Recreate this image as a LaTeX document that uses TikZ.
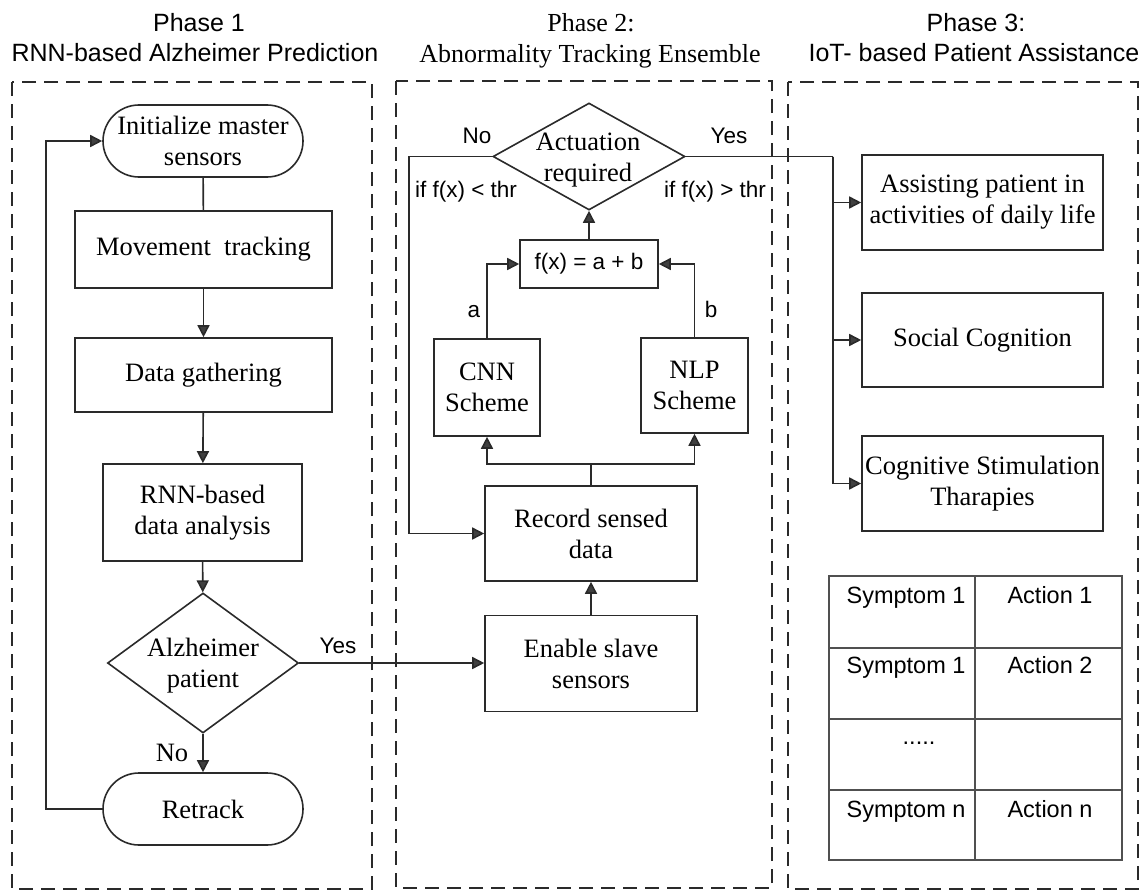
\documentclass[tikz,border=0pt]{standalone}
\usepackage{fontspec}
\setmainfont{Liberation Serif}
\setsansfont{Liberation Sans}
\usetikzlibrary{arrows.meta,shapes.geometric}
\definecolor{lc}{HTML}{2A2A2A}
\definecolor{ac}{HTML}{404040}
\definecolor{tc}{HTML}{505050}
\newcommand\serifbox{\fontsize{26.5}{31}\selectfont}
\newcommand\sanslbl{\sffamily\fontsize{22.5}{27}\selectfont}
\newcommand\sanscell{\sffamily\fontsize{23.5}{27}\selectfont}
\newcommand\sanstitle{\sffamily\fontsize{25}{30}\selectfont}
\newcommand\seriftitle{\fontsize{26}{30}\selectfont}
\begin{document}
\begin{tikzpicture}[x=1pt,y=-1pt,
  ln/.style={draw=lc, line width=1.6pt},
  arr/.style={ln, -{Triangle[length=12pt,width=12pt,fill=ac]}},
  box/.style={draw=lc, line width=1.6pt, rectangle, inner sep=0pt, align=center, font=\serifbox, text=black},
  term/.style={box, rounded corners=36pt},
  dia/.style={draw=lc, line width=1.6pt, diamond, inner sep=0pt},
  dtext/.style={font=\serifbox, align=center, inner sep=0pt},
  phase/.style={draw=lc, line width=1.5pt, dash pattern=on 14pt off 8pt},
  lbl/.style={font=\sanslbl, inner sep=0pt, anchor=base},
  slbl/.style={font=\serifbox, inner sep=0pt, anchor=base},
  ttl/.style={font=\sanstitle, inner sep=0pt, anchor=base},
  sttl/.style={font=\seriftitle, inner sep=0pt, anchor=base},
  cell/.style={font=\sanscell, inner sep=0pt, anchor=base},
]
\useasboundingbox (0,0) rectangle (1146,891);
\fill[white] (0,0) rectangle (1146,891);

% titles
\node[ttl] (p1a) at (199,32) {Phase 1};
\node[ttl] (p1b) at (195,62) {RNN-based Alzheimer Prediction};
\node[sttl] (p2a) at (591,32) {Phase 2:};
\node[sttl] (p2b) at (590,63) {Abnormality Tracking Ensemble};
\node[ttl] (p3a) at (976,32) {Phase 3:};
\node[ttl] (p3b) at (974,62) {IoT- based Patient Assistance};

% phase frames
\draw[phase] (12,82) rectangle (372,889);
\draw[phase] (396,81) rectangle (772,888);
\draw[phase] (788,82) rectangle (1138,889);

% Phase 1
\node[term, minimum width=200pt, minimum height=72pt] (init) at (203,141) {Initialize master\\sensors};
\node[box, minimum width=257pt, minimum height=77pt] (move) at (203.5,249.5) {Movement\ \ tracking};
\node[box, minimum width=257pt, minimum height=74pt] (gather) at (203.5,375) {Data gathering};
\node[box, minimum width=199pt, minimum height=97pt] (rnn) at (202.5,512.5) {RNN-based\\data analysis};
\node[dia, minimum width=191pt, minimum height=140pt] (alz) at (203,663) {};
\node[dtext] (alzt) at (203,666) {Alzheimer\\patient};
\node[term, minimum width=200pt, minimum height=72pt] (retrack) at (203,809) {Retrack};

\draw[ln] (init) -- (move);
\draw[arr] (move) -- (gather);
\draw[arr] (gather) -- (rnn);
\draw[arr] (rnn) -- (alz);
\draw[arr] (alz) -- (retrack);
\draw[arr] (retrack.west) -- ++(-56,0) |- (init.west);
\node[slbl] (no1) at (172,761) {No};
\node[lbl] (yes1) at (338,653) {Yes};

% Phase 2
\node[dia, minimum width=192pt, minimum height=107pt] (act) at (589,156.5) {};
\node[dtext] (actt) at (588,160) {Actuation\\required};
\node[box, minimum width=138pt, minimum height=48pt, font=\sanslbl] (fx) at (589,264) {f(x) = a + b};
\node[box, minimum width=106pt, minimum height=97pt] (cnn) at (487,387.5) {CNN\\Scheme};
\node[box, minimum width=107pt, minimum height=95pt] (nlp) at (694.5,385.5) {NLP\\Scheme};
\node[box, minimum width=212pt, minimum height=95pt] (rec) at (591,533.5) {Record sensed\\data};
\node[box, minimum width=212pt, minimum height=96pt] (enable) at (591,663.5) {Enable slave\\sensors};

\draw[arr] (alz.east) -- (alz.east -| enable.west);
\draw[arr] (fx) -- (act);
\draw[arr] (cnn.north) |- (fx.west);
\draw[arr] (nlp.north) |- (fx.east);
\draw[arr] (enable) -- (rec);
\coordinate (split) at (591,464);
\draw[ln] (rec.north) -- (split);
\draw[arr] (split) -| (cnn.south);
\draw[arr] (split) -| (nlp.south);
\draw[arr] (act.west) -- ++(-83,0) |- (rec.west);

\node[lbl] (no2) at (477,143) {No};
\node[lbl] (yes2) at (729,143) {Yes};
\node[lbl] (thr1) at (466,197) {if f(x) < thr};
\node[lbl] (thr2) at (715,197) {if f(x) > thr};
\node[lbl] (la) at (474,317) {a};
\node[lbl] (lb) at (711,317) {b};

% Phase 3
\node[box, minimum width=241pt, minimum height=95pt] (assist) at (982.5,202.5) {Assisting patient in\\activities of daily life};
\node[box, minimum width=241pt, minimum height=94pt] (social) at (982.5,340) {Social Cognition};
\node[box, minimum width=241pt, minimum height=95pt] (cog) at (982.5,483.5) {Cognitive Stimulation\\Tharapies};

\coordinate (yb) at (833,156.5);
\draw[ln] (act.east) -- (yb);
\draw[arr] (yb) |- (assist.west);
\draw[arr] (yb) |- (social.west);
\draw[arr] (yb) |- (cog.west);

% table
\draw[draw=tc, line width=1.3pt] (829,576) rectangle (1122,860);
\draw[draw=tc, line width=1.3pt] (975,576) -- (975,860);
\draw[draw=tc, line width=1.3pt] (829,648) -- (1122,648);
\draw[draw=tc, line width=1.3pt] (829,719) -- (1122,719);
\draw[draw=tc, line width=1.3pt] (829,790) -- (1122,790);
\node[cell] (s1) at (906,603) {Symptom 1};
\node[cell] (a1) at (1050,603) {Action 1};
\node[cell] (s2) at (906,673) {Symptom 1};
\node[cell] (a2) at (1050,673) {Action 2};
\node[cell] (s3) at (919,744) {.....};
\node[cell] (s4) at (906,817) {Symptom n};
\node[cell] (a4) at (1050,817) {Action n};
\end{tikzpicture}
\end{document}
